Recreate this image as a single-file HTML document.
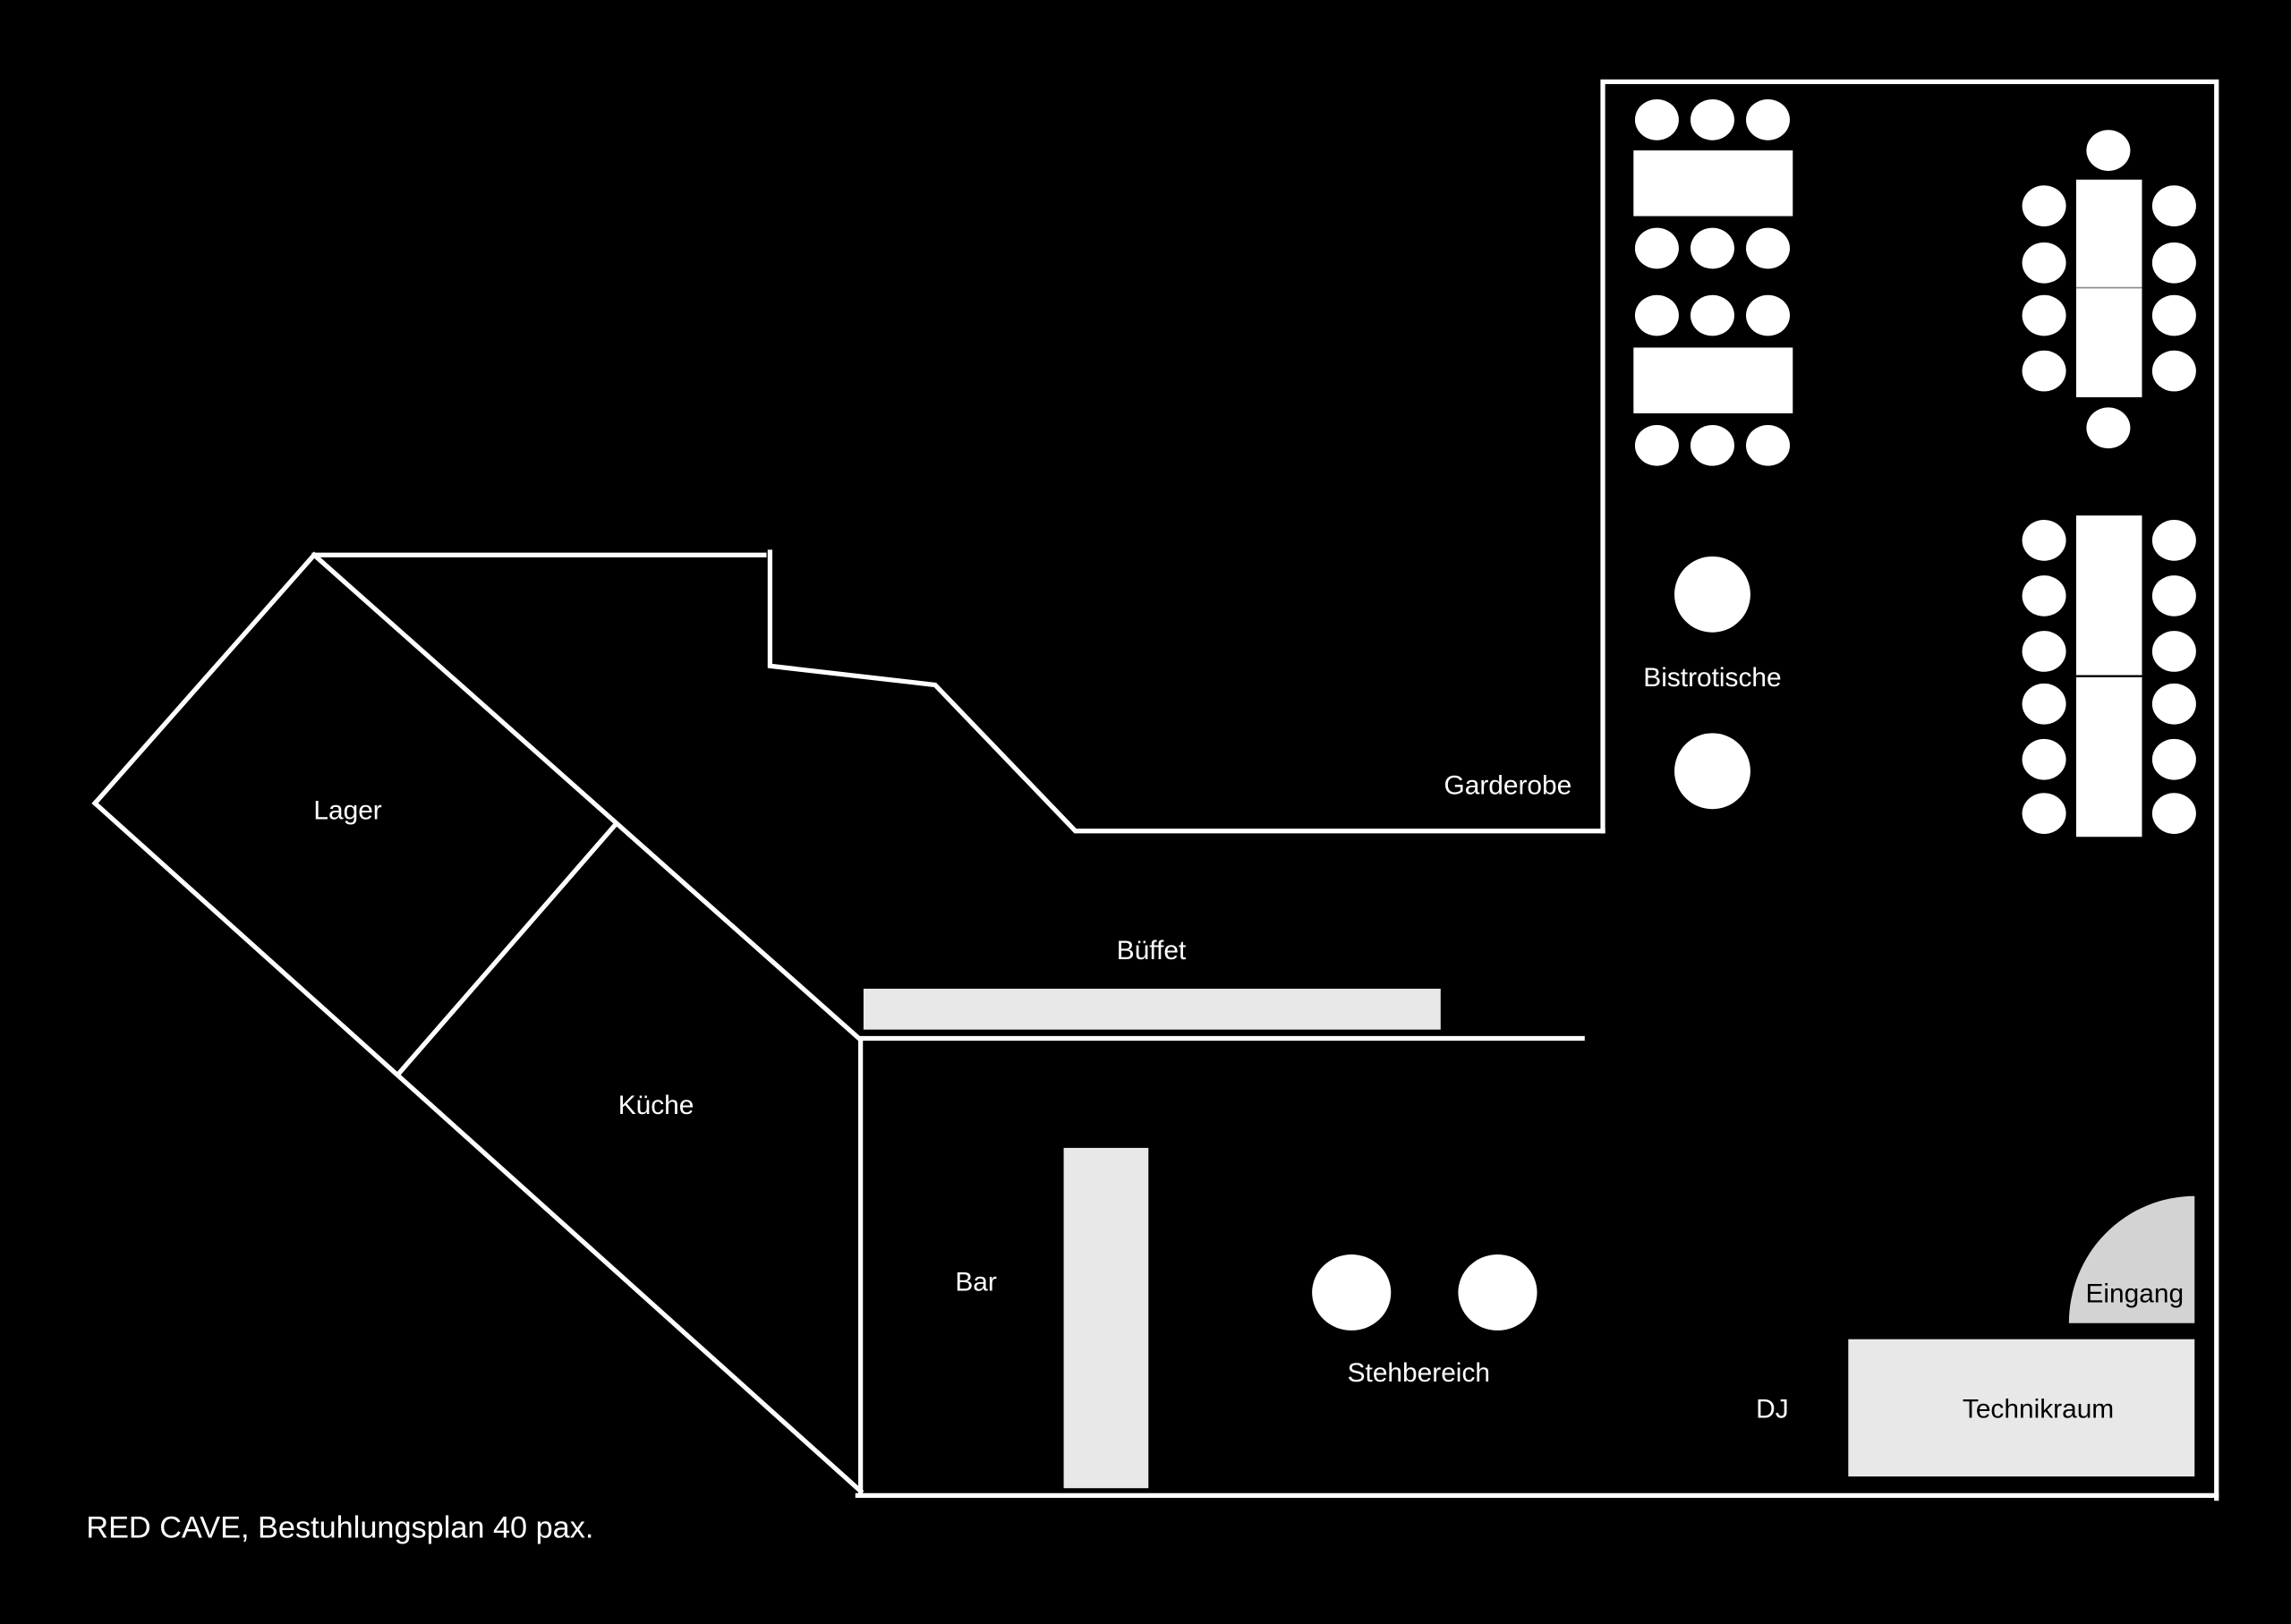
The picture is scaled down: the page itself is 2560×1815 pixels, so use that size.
<!DOCTYPE html>
<html><head><meta charset="utf-8"><style>
html,body{margin:0;padding:0;background:#000;width:2560px;height:1815px;overflow:hidden}
svg{display:block}
text{font-family:"Liberation Sans",sans-serif;fill:#fff;font-size:18.3px}
</style></head><body>
<svg width="2560" height="1815" viewBox="0 0 1568 1112" preserveAspectRatio="none">
<rect width="1568" height="1112" fill="#000"/>
<g stroke="#fff" stroke-width="3.2" fill="none" stroke-linecap="square">
<polyline points="1097,569 1097,56 1517,56 1517,1026"/>
<line x1="587" y1="1024" x2="1517" y2="1024"/>
<line x1="215" y1="380" x2="523" y2="380"/>
<polyline points="527,378 527,456 640,469 736,569 1097,569"/>
<line x1="215" y1="380" x2="589" y2="712"/>
<line x1="215" y1="380" x2="65" y2="550"/>
<line x1="65" y1="550" x2="589" y2="1021"/>
<line x1="420" y1="566" x2="273" y2="735"/>
<line x1="589" y1="712" x2="589" y2="1022"/>
<line x1="589" y1="711" x2="1083" y2="711"/>
</g>
<rect x="591" y="677" width="395" height="28" fill="#e8e8e8"/>
<rect x="728" y="786" width="58" height="233" fill="#e8e8e8"/>
<rect x="1265" y="917" width="237" height="94" fill="#e8e8e8"/>
<path d="M1416,906 A86,87 0 0 1 1502,819 L1502,906 Z" fill="#d3d3d3"/>
<g fill="#fff">
<ellipse cx="925" cy="885" rx="27" ry="26"/>
<ellipse cx="1025" cy="885" rx="27" ry="26"/>
<circle cx="1172" cy="407" r="26"/>
<circle cx="1172" cy="528" r="26"/>
<rect x="1118" y="103" width="109" height="45"/>
<rect x="1118" y="238" width="109" height="45"/>
<ellipse cx="1134" cy="82" rx="15" ry="14"/><ellipse cx="1172" cy="82" rx="15" ry="14"/><ellipse cx="1210" cy="82" rx="15" ry="14"/>
<ellipse cx="1134" cy="170" rx="15" ry="14"/><ellipse cx="1172" cy="170" rx="15" ry="14"/><ellipse cx="1210" cy="170" rx="15" ry="14"/>
<ellipse cx="1134" cy="216" rx="15" ry="14"/><ellipse cx="1172" cy="216" rx="15" ry="14"/><ellipse cx="1210" cy="216" rx="15" ry="14"/>
<ellipse cx="1134" cy="305" rx="15" ry="14"/><ellipse cx="1172" cy="305" rx="15" ry="14"/><ellipse cx="1210" cy="305" rx="15" ry="14"/>
<rect x="1421" y="123" width="45" height="149"/>
<rect x="1421" y="353" width="45" height="220"/>
<ellipse cx="1443" cy="103" rx="15" ry="14"/><ellipse cx="1443" cy="293" rx="15" ry="14"/>
<ellipse cx="1399" cy="141" rx="15" ry="14"/><ellipse cx="1399" cy="180" rx="15" ry="14"/><ellipse cx="1399" cy="216" rx="15" ry="14"/><ellipse cx="1399" cy="254" rx="15" ry="14"/>
<ellipse cx="1488" cy="141" rx="15" ry="14"/><ellipse cx="1488" cy="180" rx="15" ry="14"/><ellipse cx="1488" cy="216" rx="15" ry="14"/><ellipse cx="1488" cy="254" rx="15" ry="14"/>
<ellipse cx="1399" cy="370" rx="15" ry="14"/><ellipse cx="1399" cy="408" rx="15" ry="14"/><ellipse cx="1399" cy="446" rx="15" ry="14"/><ellipse cx="1399" cy="482" rx="15" ry="14"/><ellipse cx="1399" cy="520" rx="15" ry="14"/><ellipse cx="1399" cy="557" rx="15" ry="14"/>
<ellipse cx="1488" cy="370" rx="15" ry="14"/><ellipse cx="1488" cy="408" rx="15" ry="14"/><ellipse cx="1488" cy="446" rx="15" ry="14"/><ellipse cx="1488" cy="482" rx="15" ry="14"/><ellipse cx="1488" cy="520" rx="15" ry="14"/><ellipse cx="1488" cy="557" rx="15" ry="14"/>
</g>
<line x1="1421" y1="197" x2="1466" y2="197" stroke="#888" stroke-width="1"/>
<line x1="1421" y1="463" x2="1466" y2="463" stroke="#000" stroke-width="1.5"/>
<g text-anchor="middle" dominant-baseline="central">
<text x="238" y="555">Lager</text>
<text x="449" y="757">Küche</text>
<text x="668" y="878">Bar</text>
<text x="788" y="651">Büffet</text>
<text x="1032" y="538">Garderobe</text>
<text x="1172" y="464">Bistrotische</text>
<text x="971" y="940">Stehbereich</text>
<text x="1213" y="965">DJ</text>
<text x="1395" y="965" style="fill:#000">Technikraum</text>
<text x="1461" y="886" style="fill:#000">Eingang</text>
</g>
<text x="59" y="1046" dominant-baseline="central" style="font-size:21px">RED CAVE, Bestuhlungsplan 40 pax.</text>
</svg>
</body></html>
